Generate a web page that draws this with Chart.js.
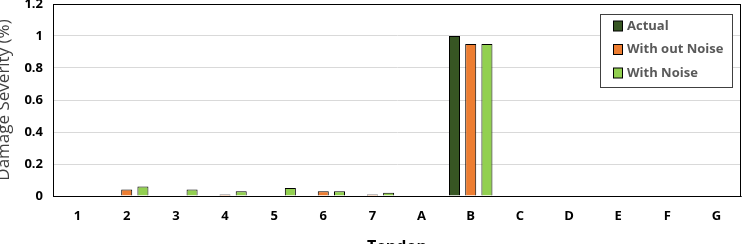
<!DOCTYPE html>
<html><head><meta charset="utf-8">
<script src="https://cdn.jsdelivr.net/npm/chart.js@4/dist/chart.umd.min.js"></script>
<style>html,body{margin:0;padding:0;background:#fff;}#wrap{width:750px;height:244px;}</style>
</head><body><div id="wrap"><canvas id="c" width="750" height="244"></canvas></div>
<script>
const categories = ['1','2','3','4','5','6','7','A','B','C','D','E','F','G'];
const actual      = [0,0,0,0,0,0,0,0,1.00,0,0,0,0,0];
const withoutNoise= [0,0.04,0,0.01,0,0.03,0.01,0,0.95,0,0,0,0,0];
const withNoise   = [0,0.06,0.04,0.03,0.05,0.03,0.02,0,0.95,0,0,0,0,0];
const seriesNames = ['Actual','With out Noise','With Noise'];
const yTicks = [0,0.2,0.4,0.6,0.8,1,1.2];
const FONT = '"Open Sans", "Liberation Sans", sans-serif';

const frame = {
  id:'frame',
  afterDraw(chart){
    const {ctx, chartArea:a} = chart;
    ctx.save();
    ctx.strokeStyle='#000'; ctx.lineWidth=1;
    ctx.strokeRect(Math.round(a.left)+0.5, Math.round(a.top)+0.5, Math.round(a.right-a.left)-1, Math.round(a.bottom-a.top));
    // legend
    const bx=600.5, by=14.5, bw=132, bh=73;
    ctx.fillStyle='#fff'; ctx.fillRect(bx,by,bw,bh);
    ctx.strokeStyle='#404040'; ctx.strokeRect(bx,by,bw,bh);
    ctx.font='bold 13px ' + FONT;
    ctx.textBaseline='middle';
    chart.data.datasets.forEach((ds,i)=>{
      const y = 26 + i*23.5;
      ctx.fillStyle=ds.backgroundColor;
      ctx.fillRect(613.5,y-5,9,10);
      ctx.strokeStyle='#000'; ctx.strokeRect(613.5,y-5,9,10);
      ctx.fillStyle='#595959';
      ctx.fillText(ds.label, 627, y);
    });
    ctx.restore();
  }
};

new Chart(document.getElementById('c'), {
  type:'bar',
  data:{
    labels:categories,
    datasets:[
      {label:seriesNames[0], data:actual, backgroundColor:'#375623', borderColor:'#000', borderWidth:1},
      {label:seriesNames[1], data:withoutNoise, backgroundColor:'#ED7D31', borderColor:'#000', borderWidth:1},
      {label:seriesNames[2], data:withNoise, backgroundColor:'#92D050', borderColor:'#000', borderWidth:1}
    ]
  },
  options:{
    responsive:false, animation:false,
    layout:{padding:{left:0,right:9,top:4,bottom:0}},
    plugins:{legend:{display:false}, tooltip:{enabled:false}},
    datasets:{bar:{categoryPercentage:0.99, barPercentage:0.68}},
    scales:{
      x:{
        grid:{display:false, drawTicks:false},
        border:{display:true,color:'#595959',width:1},
        ticks:{color:'#000', font:{family:FONT, size:13, weight:'bold'}, padding:12, maxRotation:0, autoSkip:false},
        title:{display:true, text:'Tendon', color:'#000', font:{family:FONT, size:16, weight:'bold'}, padding:{top:0,bottom:-13}},
        afterFit(s){ s.height = 48; s.paddingLeft = 0; s.paddingRight = 0; }
      },
      y:{
        min:0, max:1.2,
        afterBuildTicks(s){ s.ticks = yTicks.map(v=>({value:v})); },
        grid:{color:'#d9d9d9', lineWidth:1, drawTicks:false},
        border:{display:true,color:'#000'},
        ticks:{color:'#000', font:{family:FONT, size:13, weight:'bold'}, padding:10,
          callback:(v)=>String(v)},
        title:{display:true, text:'Damage Severity (%)', color:'#404040', font:{family:FONT, size:17}, padding:{top:-6,bottom:0}},
        afterFit(s){ s.width = 53; s.paddingTop = 0; s.paddingBottom = 0; }
      }
    }
  },
  plugins:[frame]
});
</script></body></html>
